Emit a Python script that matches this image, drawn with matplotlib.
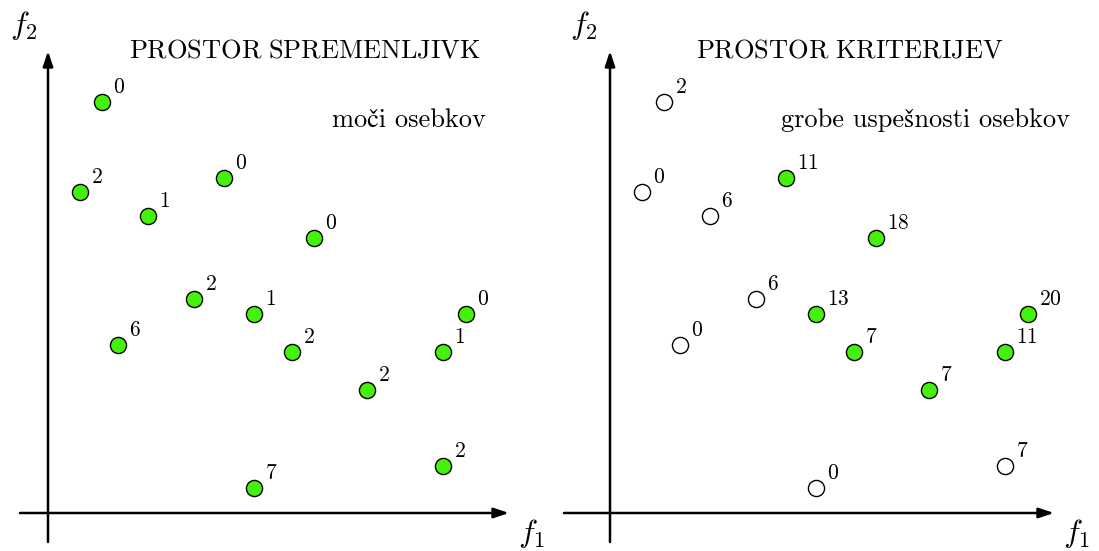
import matplotlib
matplotlib.use("Agg")
import matplotlib.pyplot as plt

plt.rcParams['mathtext.fontset'] = 'cm'

# point positions (same individuals in both spaces), arbitrary units
f1 = [5.4, 3.2, 10.0, 17.6, 26.6, 14.6, 20.6, 7.0, 24.4, 41.8, 39.5, 31.9, 39.5, 20.6]
f2 = [41.1, 32.1, 29.7, 33.5, 27.5, 21.4, 19.9, 16.8, 16.1, 19.9, 16.1, 12.3, 4.7, 2.5]
# strengths (left) and raw fitness (right)
strength = [0, 2, 1, 0, 0, 2, 1, 6, 2, 0, 1, 2, 2, 7]
raw_fitness = [2, 0, 6, 11, 18, 6, 13, 0, 7, 20, 11, 7, 7, 0]
in_archive = [False, False, False, True, True, False, True, False, True, True, True, True, False, False]

GREEN = '#44f00c'
W, H = 1099, 551
fig = plt.figure(figsize=(W / 100, H / 100), dpi=100)
SERIF = ['cmr10', 'STIXGeneral', 'DejaVu Serif']

def panel(left_px, width_px, labels, filled_all, title, title_x, subtitle, sub_x,
          xarrow, f1_x, f2_x):
    ax = fig.add_axes([left_px / W, 0, width_px / W, 1])
    ax.set_xlim(-4.8, -4.8 + width_px / 10)
    ax.set_ylim(-3.8, -3.8 + H / 10)
    ax.axis('off')
    # axes arrows
    ax.annotate('', xy=(xarrow[1], 0), xytext=(xarrow[0], 0),
                arrowprops=dict(arrowstyle='-|>,head_length=0.9,head_width=0.3', lw=1.8, color='black',
                                shrinkA=0, shrinkB=0))
    ax.annotate('', xy=(0, 46.2), xytext=(0, -2.9),
                arrowprops=dict(arrowstyle='-|>,head_length=0.9,head_width=0.3', lw=1.8, color='black',
                                shrinkA=0, shrinkB=0))
    ax.text(f1_x, -3.65, r'$f_1$', fontsize=23, ha='left', va='bottom')
    ax.text(f2_x, 48.8, r'$f_2$', fontsize=23, ha='center', va='center')
    for i, (x, y) in enumerate(zip(f1, f2)):
        filled = filled_all or in_archive[i]
        ax.scatter([x], [y], s=135, marker='o',
                   facecolor=GREEN if filled else 'white',
                   edgecolor='black', linewidth=1.0, zorder=3)
        ax.text(x + 1.1, y + 0.9, r'$\mathrm{%d}$' % labels[i], fontsize=15.5,
                ha='left', va='baseline')
    ax.text(title_x, 46.2, title, fontsize=19, ha='center', va='center')
    ax.text(sub_x, 38.6, subtitle, fontsize=19, ha='right', va='baseline', family=SERIF)
    return ax

panel(0, 549, strength, True, r'$\mathrm{PROSTOR\ SPREMENLJIVK}$', 25.7,
      'moči osebkov', 43.8, (-2.8, 46.1), 47.0, -2.4)
panel(562, 537, raw_fitness, False, r'$\mathrm{PROSTOR\ KRITERIJEV}$', 24.0,
      'grobe uspešnosti osebkov', 46.0, (-4.6, 44.4), 45.3, -2.6)

fig.savefig('out.png', dpi=100)
